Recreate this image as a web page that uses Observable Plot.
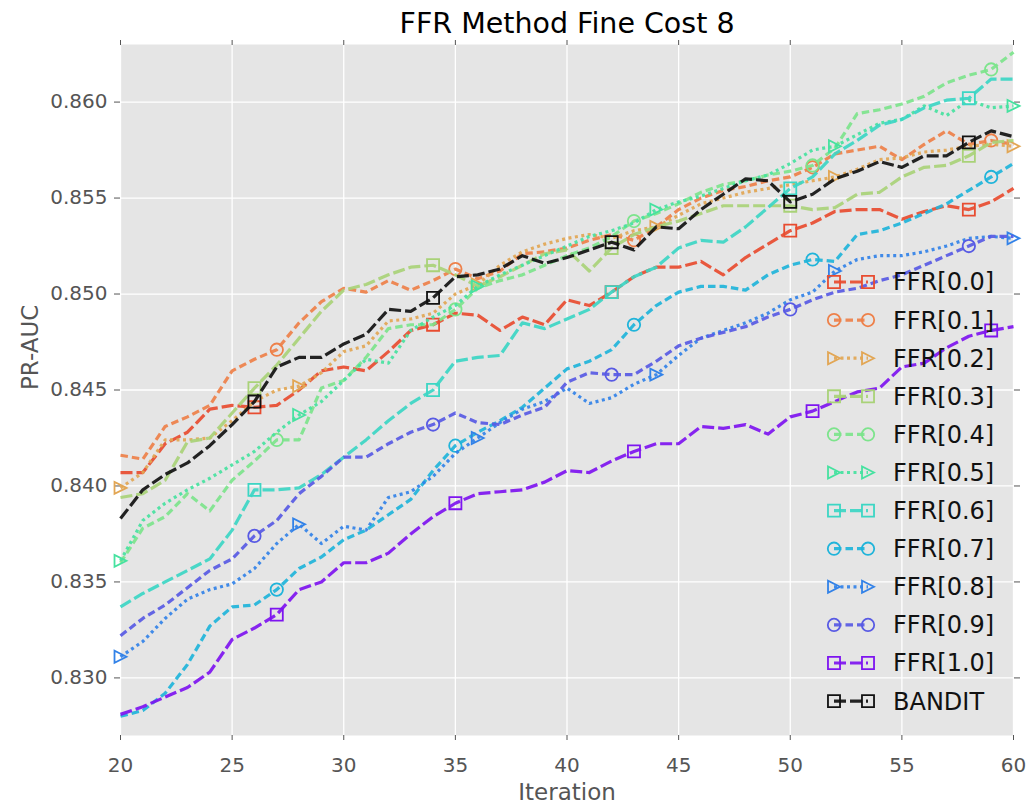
<!DOCTYPE html>
<html><head><meta charset="utf-8">
<script src="https://cdn.jsdelivr.net/npm/d3@7"></script>
<script src="https://cdn.jsdelivr.net/npm/@observablehq/plot@0.6"></script>
<style>
body{margin:0;background:#fff;}
#chart{width:1029px;height:808px;}
</style>
</head><body><div id="chart"></div>
<script>
const titleText = "FFR Method Fine Cost 8";
const xLabel = "Iteration";
const yLabel = "PR-AUC";
const iterations = d3.range(20, 61);
const xTicks = [20, 25, 30, 35, 40, 45, 50, 55, 60];
const yTicks = [0.830, 0.835, 0.840, 0.845, 0.850, 0.855, 0.860];
const seriesNames = ["FFR[0.0]","FFR[0.1]","FFR[0.2]","FFR[0.3]","FFR[0.4]","FFR[0.5]","FFR[0.6]","FFR[0.7]","FFR[0.8]","FFR[0.9]","FFR[1.0]","BANDIT"];

const ffr00 = [0.8407,0.8407,0.8422,0.8428,0.8440,0.8442,0.8441,0.8442,0.8450,0.8460,0.8462,0.8460,0.8470,0.8481,0.8484,0.8490,0.8489,0.8481,0.8488,0.8484,0.8497,0.8494,0.8501,0.8509,0.8514,0.8514,0.8517,0.8510,0.8519,0.8526,0.8533,0.8537,0.8543,0.8544,0.8544,0.8539,0.8543,0.8546,0.8544,0.8548,0.8555];
const ffr01 = [0.8416,0.8414,0.8431,0.8436,0.8442,0.8460,0.8466,0.8471,0.8485,0.8496,0.8503,0.8501,0.8507,0.8502,0.8507,0.8513,0.8508,0.8512,0.8521,0.8522,0.8524,0.8528,0.8531,0.8528,0.8535,0.8544,0.8550,0.8554,0.8556,0.8559,0.8561,0.8566,0.8573,0.8575,0.8577,0.8570,0.8578,0.8585,0.8578,0.8580,0.8578];
const ffr02 = [0.8399,0.8407,0.8424,0.8424,0.8425,0.8434,0.8444,0.8450,0.8452,0.8459,0.8470,0.8473,0.8486,0.8487,0.8490,0.8500,0.8505,0.8515,0.8522,0.8526,0.8529,0.8531,0.8529,0.8533,0.8535,0.8541,0.8547,0.8550,0.8553,0.8555,0.8557,0.8559,0.8561,0.8565,0.8570,0.8571,0.8574,0.8575,0.8577,0.8578,0.8577];
const ffr03 = [0.8394,0.8396,0.8403,0.8423,0.8425,0.8438,0.8451,0.8463,0.8477,0.8491,0.8502,0.8505,0.8510,0.8514,0.8515,0.8510,0.8504,0.8509,0.8515,0.8521,0.8523,0.8512,0.8524,0.8531,0.8535,0.8538,0.8542,0.8546,0.8546,0.8546,0.8546,0.8544,0.8545,0.8552,0.8553,0.8561,0.8566,0.8567,0.8572,0.8579,0.8580];
const ffr04 = [0.8360,0.8378,0.8384,0.8396,0.8387,0.8403,0.8413,0.8424,0.8424,0.8451,0.8455,0.8467,0.8482,0.8484,0.8484,0.8492,0.8503,0.8507,0.8510,0.8515,0.8520,0.8524,0.8530,0.8538,0.8542,0.8547,0.8553,0.8557,0.8559,0.8562,0.8564,0.8567,0.8576,0.8594,0.8596,0.8599,0.8603,0.8610,0.8614,0.8617,0.8626];
const ffr05 = [0.8361,0.8382,0.8391,0.8398,0.8404,0.8411,0.8418,0.8428,0.8437,0.8444,0.8455,0.8466,0.8464,0.8481,0.8488,0.8494,0.8504,0.8510,0.8515,0.8520,0.8525,0.8530,0.8533,0.8537,0.8544,0.8548,0.8551,0.8555,0.8559,0.8562,0.8568,0.8575,0.8577,0.8583,0.8589,0.8591,0.8598,0.8593,0.8601,0.8597,0.8598];
const ffr06 = [0.8337,0.8344,0.8350,0.8356,0.8362,0.8377,0.8398,0.8398,0.8399,0.8406,0.8415,0.8424,0.8434,0.8443,0.8450,0.8465,0.8467,0.8468,0.8485,0.8482,0.8487,0.8492,0.8501,0.8509,0.8514,0.8524,0.8528,0.8527,0.8535,0.8545,0.8555,0.8561,0.8573,0.8580,0.8588,0.8591,0.8597,0.8601,0.8602,0.8612,0.8612];
const ffr07 = [0.8280,0.8283,0.8292,0.8307,0.8327,0.8337,0.8338,0.8346,0.8357,0.8363,0.8372,0.8377,0.8385,0.8393,0.8408,0.8421,0.8428,0.8434,0.8441,0.8451,0.8461,0.8465,0.8471,0.8484,0.8494,0.8501,0.8504,0.8504,0.8502,0.8510,0.8515,0.8518,0.8517,0.8531,0.8533,0.8537,0.8542,0.8547,0.8554,0.8561,0.8568];
const ffr08 = [0.8311,0.8319,0.8331,0.8341,0.8346,0.8349,0.8357,0.8370,0.8380,0.8370,0.8379,0.8377,0.8394,0.8397,0.8405,0.8417,0.8425,0.8433,0.8440,0.8444,0.8451,0.8443,0.8446,0.8453,0.8458,0.8468,0.8477,0.8481,0.8485,0.8490,0.8497,0.8501,0.8512,0.8518,0.8520,0.8520,0.8522,0.8525,0.8529,0.8530,0.8529];
const ffr09 = [0.8322,0.8331,0.8338,0.8347,0.8356,0.8362,0.8374,0.8382,0.8396,0.8405,0.8415,0.8415,0.8422,0.8428,0.8432,0.8438,0.8433,0.8432,0.8437,0.8441,0.8454,0.8459,0.8458,0.8458,0.8465,0.8473,0.8477,0.8480,0.8483,0.8488,0.8492,0.8497,0.8501,0.8503,0.8507,0.8510,0.8515,0.8520,0.8525,0.8530,0.8530];
const ffr10 = [0.8281,0.8285,0.8290,0.8295,0.8303,0.8320,0.8326,0.8333,0.8346,0.8350,0.8360,0.8360,0.8365,0.8375,0.8384,0.8391,0.8396,0.8397,0.8398,0.8402,0.8408,0.8407,0.8413,0.8418,0.8422,0.8422,0.8431,0.8430,0.8432,0.8427,0.8436,0.8439,0.8444,0.8449,0.8451,0.8462,0.8464,0.8472,0.8478,0.8481,0.8483];
const bandit = [0.8383,0.8398,0.8406,0.8412,0.8421,0.8432,0.8444,0.8462,0.8467,0.8467,0.8474,0.8479,0.8492,0.8491,0.8498,0.8509,0.8510,0.8513,0.8520,0.8516,0.8519,0.8523,0.8527,0.8523,0.8535,0.8534,0.8544,0.8552,0.8560,0.8559,0.8548,0.8552,0.8560,0.8564,0.8569,0.8566,0.8572,0.8572,0.8579,0.8585,0.8582];

const seriesValues = [ffr00, ffr01, ffr02, ffr03, ffr04, ffr05, ffr06, ffr07, ffr08, ffr09, ffr10, bandit];
const seriesColors = ["#e84c30","#ee8049","#e2a654","#a9d278","#7de48c","#46e2a0","#3cd6c4","#20b4da","#3282e8","#585ae4","#7e14f0","#111111"];
const seriesSymbols = ["square","circle","triangle","square","circle","triangle","square","circle","triangle","circle","square","square"];
const markerStart = [26,27,28,26,27,28,26,27,28,26,27,26];
const markerStep = 8;

const dashFor = {square: "12 4", circle: "7.5 4", triangle: "3 3.5"};

const triRight = {
  draw(ctx, size) {
    const r = Math.sqrt(size / Math.PI) * 0.95;
    ctx.moveTo(r, 0);
    ctx.lineTo(-r, -r);
    ctx.lineTo(-r, r);
    ctx.closePath();
  }
};
const symFor = {square: "square", circle: "circle", triangle: triRight};
const rFor = {square: 6.8, circle: 6.2, triangle: 6.3};

const marks = [
  Plot.frame({fill: "#e5e5e5", stroke: null}),
  Plot.gridX(xTicks, {stroke: "white", strokeOpacity: 1, strokeWidth: 1.3}),
  Plot.gridY(yTicks, {stroke: "white", strokeOpacity: 1, strokeWidth: 1.3}),
  Plot.axisX(xTicks, {anchor: "bottom", tickSize: 5, tickPadding: 17, fontSize: 20, label: null, tickFormat: d => String(d)}),
  Plot.axisX(xTicks, {anchor: "top", tickSize: 5, label: null, tickFormat: () => ""}),
  Plot.axisY(yTicks, {anchor: "left", tickSize: 6, tickPadding: 7, fontSize: 20, label: null, tickFormat: d3.format(".3f")}),
  Plot.axisY(yTicks, {anchor: "right", tickSize: 6, label: null, tickFormat: () => ""})
];

seriesNames.forEach((name, i) => {
  const data = iterations.map((x, j) => ({x, y: seriesValues[i][j]}));
  const sym = seriesSymbols[i];
  marks.push(Plot.line(data, {x: "x", y: "y", stroke: seriesColors[i], strokeWidth: 3.2, strokeOpacity: 0.92, strokeDasharray: dashFor[sym], strokeLinejoin: "round", strokeLinecap: "butt"}));
  const mk = data.filter(d => (d.x - markerStart[i]) % markerStep === 0);
  marks.push(Plot.dot(mk, {x: "x", y: "y", symbol: symFor[sym], r: rFor[sym], stroke: seriesColors[i], strokeWidth: 1.8, fill: "none"}));
});

marks.push(Plot.text([titleText], {text: d => d, frameAnchor: "top", dy: -21, fontSize: 28.5, fill: "black", lineAnchor: "middle"}));
marks.push(Plot.text([xLabel], {text: d => d, frameAnchor: "bottom", dy: 57, fontSize: 23, fill: "#555", lineAnchor: "middle"}));
marks.push(Plot.text([yLabel], {text: d => d, frameAnchor: "left", dx: -90, rotate: -90, fontSize: 23, fill: "#555", lineAnchor: "middle"}));

const chart = Plot.plot({
  width: 1029,
  height: 808,
  marginLeft: 120,
  marginRight: 16,
  marginTop: 44,
  marginBottom: 73,
  x: {domain: [20, 60]},
  y: {domain: [0.827, 0.863]},
  style: {fontFamily: "DejaVu Sans", color: "#555", background: "white", overflow: "visible"},
  marks
});
document.getElementById("chart").appendChild(chart);

const svg = d3.select(chart);
// make sure butt caps and dash patterns are on each line mark (in series order)
svg.selectAll('g[aria-label="line"]').each(function(d, k) {
  const dash = dashFor[seriesSymbols[k]];
  d3.select(this).attr("stroke-dasharray", dash).attr("stroke-linecap", "butt")
    .selectAll("path").attr("stroke-dasharray", dash).attr("stroke-linecap", "butt");
});

// legend (drawn with d3 on top of the plot)
const lg = svg.append("g").attr("font-family", "DejaVu Sans").attr("text-anchor", "start");
const symPath = {
  square: d3.symbol(d3.symbolSquare, Math.PI * rFor.square * rFor.square)(),
  circle: d3.symbol(d3.symbolCircle, Math.PI * rFor.circle * rFor.circle)(),
  triangle: d3.symbol(triRight, Math.PI * rFor.triangle * rFor.triangle)()
};
seriesNames.forEach((name, i) => {
  const y = 282 + 38.1 * i;
  const sym = seriesSymbols[i];
  const g = lg.append("g").attr("transform", `translate(0,${y})`);
  g.append("line").attr("x1", 834).attr("x2", 868).attr("y1", 0).attr("y2", 0)
    .attr("stroke", seriesColors[i]).attr("stroke-width", 3.2).attr("stroke-opacity", 0.92)
    .attr("stroke-dasharray", dashFor[sym]).attr("stroke-linecap", "butt");
  [834, 868].forEach(x => g.append("path").attr("d", symPath[sym]).attr("transform", `translate(${x},0)`)
    .attr("fill", "none").attr("stroke", seriesColors[i]).attr("stroke-width", 1.8));
  g.append("text").attr("x", 893).attr("y", 0).attr("dy", "0.35em").attr("font-size", 24)
    .attr("text-anchor", "start").attr("fill", "#111").text(name);
});
</script>
</body></html>
